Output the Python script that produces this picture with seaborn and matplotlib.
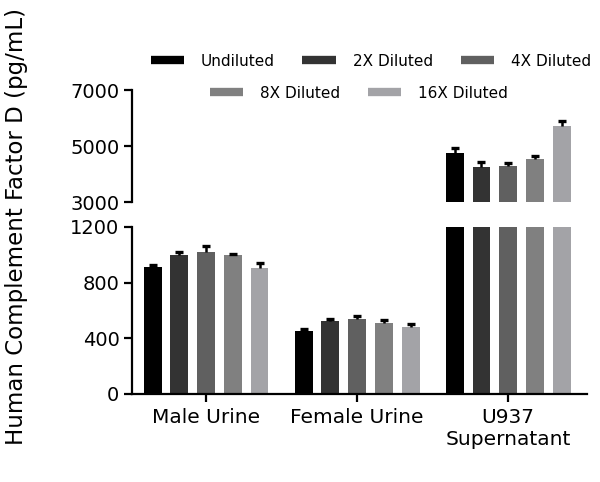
import pandas as pd
import matplotlib
matplotlib.use("Agg")
import matplotlib.pyplot as plt
import seaborn as sns
from matplotlib.lines import Line2D

samples = ["Male Urine", "Female Urine", "U937\nSupernatant"]
dilutions = ["Undiluted", "2X Diluted", "4X Diluted", "8X Diluted", "16X Diluted"]
male_urine = [910, 998, 1022, 996, 903]
male_err = [19, 24, 43, 7, 40]
female_urine = [451, 523, 538, 507, 480]
female_err = [16, 16, 22, 26, 22]
u937 = [4750, 4261, 4296, 4557, 5725]
u937_err = [200, 168, 118, 107, 178]
colors = ["#000000", "#333333", "#606060", "#808080", "#a3a3a7"]

rows = []
for s, vals, errs in zip(samples, [male_urine, female_urine, u937], [male_err, female_err, u937_err]):
    for d, v, e in zip(dilutions, vals, errs):
        rows.append({"Sample": s, "Dilution": d, "Value": v, "Err": e})
df = pd.DataFrame(rows)

sns.set_style("ticks")
plt.rcParams["font.family"] = ["DejaVu Sans"]
plt.rcParams["text.color"] = "black"
plt.rcParams["xtick.color"] = "black"
plt.rcParams["ytick.color"] = "black"
plt.rcParams["axes.edgecolor"] = "black"

fig = plt.figure(figsize=(6, 4.82), dpi=100)
ax_top = fig.add_axes([0.22, 0.580, 0.758, 0.2324])
ax_bot = fig.add_axes([0.22, 0.1826, 0.758, 0.3465])

for ax in (ax_top, ax_bot):
    sns.barplot(data=df, x="Sample", y="Value", hue="Dilution", hue_order=dilutions,
                palette=colors, width=0.885, gap=0.33, errorbar=None, legend=False,
                saturation=1, linewidth=0, ax=ax)
    # upward-only error bars on top of each bar
    for cont, d in zip(ax.containers, dilutions):
        errs = df[df["Dilution"] == d]["Err"].values
        xs = [p.get_x() + p.get_width() / 2 for p in cont]
        ys = [p.get_height() for p in cont]
        eb = ax.errorbar(xs, ys, yerr=[[0] * len(errs), errs], fmt="none", ecolor="black",
                         elinewidth=1.8, capsize=3.2, capthick=2.4)
        eb[1][0].set_visible(False)
    ax.set_xlim(-0.49, 2.52)
    ax.set_xlabel("")
    ax.set_ylabel("")
    for sp in ax.spines.values():
        sp.set_linewidth(1.6)
    ax.tick_params(axis="both", width=1.6, length=6, labelsize=14, pad=3,
                   color="black", labelcolor="black")

ax_bot.set_ylim(0, 1200)
ax_bot.set_yticks([0, 400, 800, 1200])
sns.despine(ax=ax_bot)
ax_bot.tick_params(axis="x", labelsize=14.5, pad=4)

ax_top.set_ylim(3000, 7000)
ax_top.set_yticks([3000, 5000, 7000])
ax_top.set_xticks([])
sns.despine(ax=ax_top, bottom=True)

fig.text(0.027, 0.531, "Human Complement Factor D (pg/mL)", rotation=90,
         ha="center", va="center", fontsize=16.5, color="black")

handles = [Line2D([0], [0], color=c, lw=6, solid_capstyle="butt") for c in colors]
leg1 = fig.legend(handles[:3], dilutions[:3], ncol=3, loc="center",
                  bbox_to_anchor=(0.618, 0.873), frameon=False, fontsize=11,
                  handlelength=2.2, handletextpad=1.1, columnspacing=1.8)
leg2 = fig.legend(handles[3:], dilutions[3:], ncol=2, loc="center",
                  bbox_to_anchor=(0.598, 0.807), frameon=False, fontsize=11,
                  handlelength=2.2, handletextpad=1.1, columnspacing=1.8)

plt.savefig("out.png", dpi=100)
